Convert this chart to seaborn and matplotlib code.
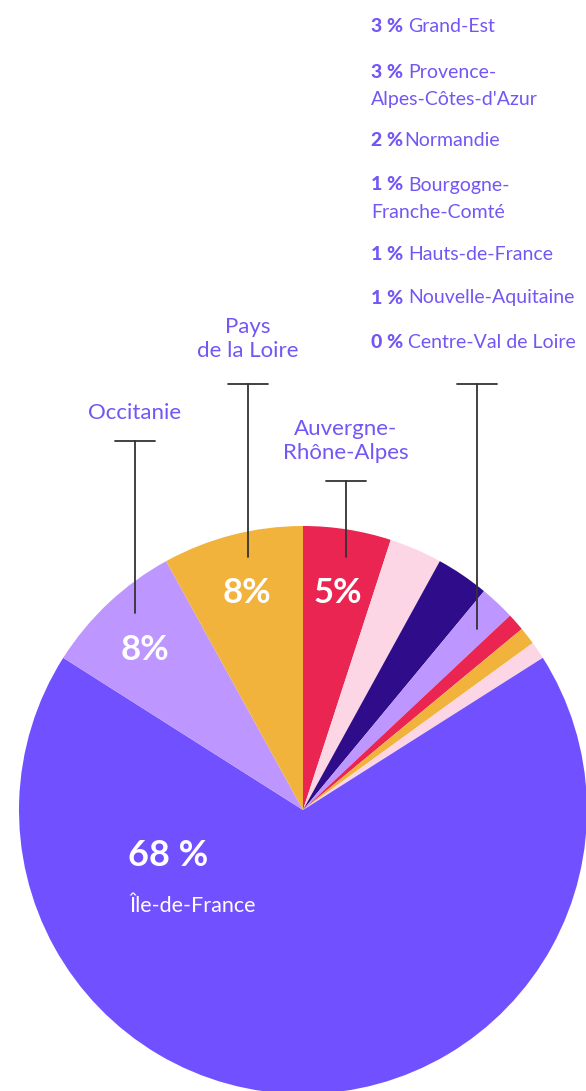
import matplotlib
matplotlib.use("Agg")
import matplotlib.pyplot as plt
import seaborn as sns

# slices, clockwise from 12 o'clock
regions = ['Auvergne-Rhône-Alpes', 'Grand-Est', "Provence-Alpes-Côtes-d'Azur", 'Normandie',
           'Bourgogne-Franche-Comté', 'Hauts-de-France', 'Nouvelle-Aquitaine',
           'Centre-Val de Loire', 'Île-de-France', 'Occitanie', 'Pays de la Loire']
shares = [5, 3, 3, 2, 1, 1, 1, 0, 68, 8, 8]
colors = ['#EA2552', '#FDD6E6', '#2E0C8A', '#BD96FF', '#EA2552', '#F2B33D', '#FDD6E6',
          '#FDD6E6', '#7150FF', '#BD96FF', '#F2B33D']

# right-hand list of small regions
list_pcts = ['3 %', '3 %', '2 %', '1 %', '1 %', '1 %', '0 %']
list_names = ['Grand-Est', 'Provence-\nAlpes-Côtes-d\'Azur', 'Normandie', 'Bourgogne-\nFranche-Comté',
              'Hauts-de-France', 'Nouvelle-Aquitaine', 'Centre-Val de Loire']

W, H = 586, 1091
PURPLE = '#7356F5'


def main():
    sns.set_style('white')
    plt.rcParams['font.family'] = ['Lato', 'DejaVu Sans']

    fig = plt.figure(figsize=(W / 100, H / 100), dpi=100)
    ax = fig.add_axes([0, 0, 1, 1])

    cx, cy, r = 303, H - 810, 284
    ax.pie(shares, colors=colors, startangle=90, counterclock=False,
           center=(cx, cy), radius=r, frame=True, wedgeprops=dict(linewidth=0))
    ax.set_xlim(0, W)
    ax.set_ylim(0, H)
    ax.set_aspect('equal')
    ax.axis('off')

    def y(py):
        return H - py

    # in-slice labels
    for txt, px, py in [('5%', 338, 593), ('8%', 247, 593), ('8%', 145, 650)]:
        ax.text(px, y(py), txt, color='white', fontsize=25, fontweight='bold',
                ha='center', va='center')
    ax.text(128, y(855), '68 %', color='white', fontsize=26, fontweight='bold',
            ha='left', va='center')
    ax.text(129, y(906), 'Île-de-France', color='white', fontsize=15.5,
            ha='left', va='center')

    # top labels
    ax.text(135, y(413), 'Occitanie', color=PURPLE, fontsize=16, ha='center', va='center')
    ax.text(248, y(339), 'Pays\nde la Loire', color=PURPLE, fontsize=16, ha='center',
            va='center', linespacing=1.3)
    ax.text(346, y(441), 'Auvergne-\nRhône-Alpes', color=PURPLE, fontsize=16, ha='center',
            va='center', linespacing=1.3)

    # leader lines (T shapes)
    lc = '#333333'
    for xc, ytop, ybot in [(135, 441, 613), (248, 384, 557), (346, 481, 557), (477, 384, 629)]:
        ax.plot([xc - 20, xc + 20], [y(ytop), y(ytop)], color=lc, lw=1.3)
        ax.plot([xc, xc], [y(ytop), y(ybot)], color=lc, lw=1.3)

    # right list
    ys = [27, 72, 140, 185, 254, 298, 342]
    fig.canvas.draw()
    for pct, name, py in zip(list_pcts, list_names, ys):
        t = ax.text(371, y(py), pct, color=PURPLE, fontsize=14, fontweight='black',
                    ha='left', va='center')
        bb = t.get_window_extent(renderer=fig.canvas.get_renderer())
        gap = 1 if name == 'Normandie' else 5
        first, _, second = name.partition('\n')
        ax.text(bb.x1 + gap, y(py), first, color=PURPLE, fontsize=14,
                ha='left', va='center')
        if second:
            ax.text(371, y(py + 27), second, color=PURPLE, fontsize=14,
                    ha='left', va='center')

    fig.savefig('out.png', dpi=100)


if __name__ == "__main__":
    main()
